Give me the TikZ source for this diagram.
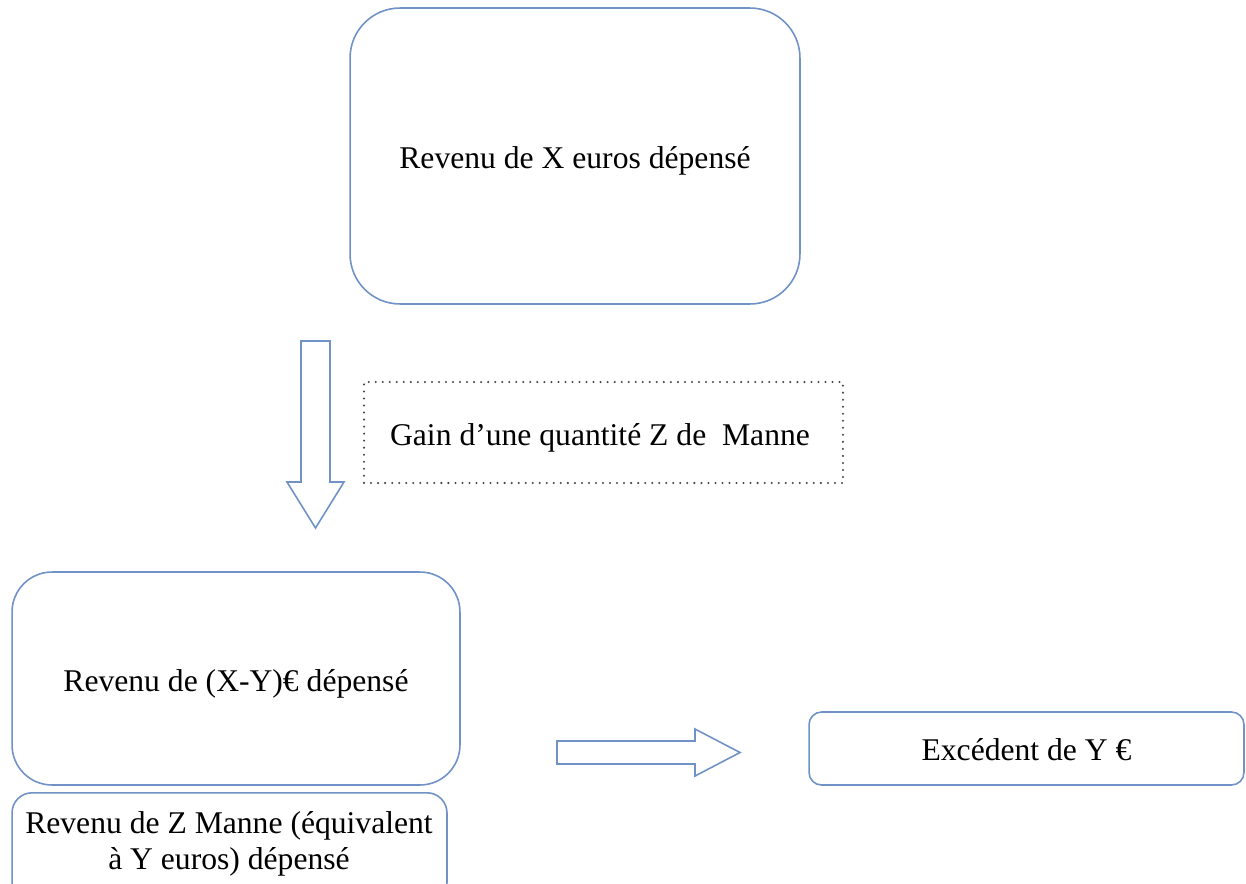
\documentclass[tikz,border=0pt]{standalone}
\usepackage{fontspec}
\setmainfont{Liberation Serif}
\definecolor{frame}{RGB}{112,146,198}
\definecolor{dotgray}{RGB}{70,70,70}
\tikzset{
  box/.style={draw=frame, line width=0.9pt, fill=white, inner sep=0pt},
  note/.style={draw=dotgray, line width=1.3pt, line cap=round,
    dash pattern=on 0pt off 4pt, inner sep=0pt},
  label/.style={align=center, font=\fontsize{18}{20.5}\selectfont, inner sep=0pt},
  blockarrow/.style={draw=frame, line width=0.9pt, fill=white, line join=miter}
}
\begin{document}
\begin{tikzpicture}[x=0.02cm, y=-0.02cm]
  % page frame: 1246 x 883 units
  \clip (0,0) rectangle (1246,883);
  \fill[white] (0,0) rectangle (1246,883);

  % starting situation
  \node[box, minimum width=9cm, minimum height=5.92cm, rounded corners=1cm]
    (start) at (575,156) {};
  \node[label] (starttxt) at (575,161) {Revenu de X euros dépensé};

  % event
  \node[note, minimum width=9.58cm, minimum height=2.02cm]
    (gain) at (603.5,432.5) {};
  \node[label] (gaintxt) at (600,438) {Gain d’une quantité Z de\ \ Manne};

  % downward block arrow
  \draw[blockarrow] (301,341) -- (330,341) -- (330,482) -- (344,482)
    -- (315.5,528) -- (287,482) -- (301,482) -- cycle;

  % resulting spending
  \node[box, minimum width=8.96cm, minimum height=4.26cm, rounded corners=0.8cm]
    (rest) at (236,678.5) {};
  \node[label] (resttxt) at (236,683.5) {Revenu de (X-Y)€ dépensé};

  \node[box, minimum width=8.7cm, minimum height=2.2cm, rounded corners=0.4cm,
    anchor=north] (manne) at (229.5,792) {};
  \node[label] (mannetxt) at (229,844) {Revenu de Z Manne (équivalent\\à Y euros) dépensé};

  % rightward block arrow
  \draw[blockarrow] (557,741) -- (695,741) -- (695,729) -- (740,752.5)
    -- (695,776) -- (695,764) -- (557,764) -- cycle;

  % outcome
  \node[box, minimum width=8.7cm, minimum height=1.46cm, rounded corners=0.25cm]
    (surplus) at (1026.5,748.5) {};
  \node[label] (surplustxt) at (1026.5,750) {Excédent de Y €};
\end{tikzpicture}
\end{document}
